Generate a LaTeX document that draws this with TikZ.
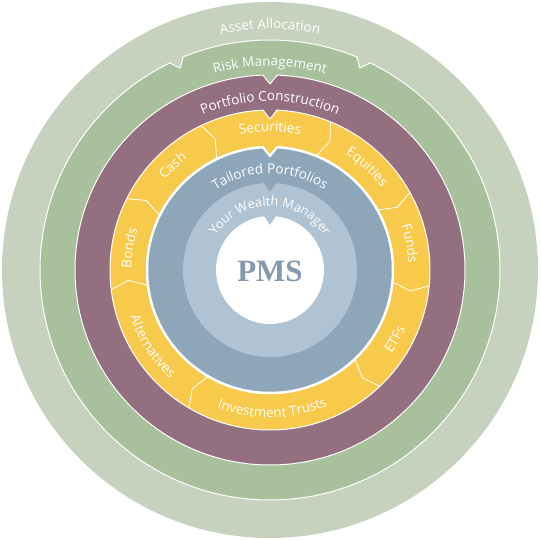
\documentclass[tikz,border=0pt]{standalone}
\usepackage{fontspec}
\setmainfont{Liberation Serif}
\setsansfont{Open Sans}
\usetikzlibrary{decorations.text}
\definecolor{sage}{HTML}{C6D2BE}
\definecolor{fern}{HTML}{A8C09C}
\definecolor{plum}{HTML}{946F7F}
\definecolor{sun}{HTML}{F8CA4B}
\definecolor{steel}{HTML}{8EA6BA}
\definecolor{frost}{HTML}{AFC3D2}
\definecolor{pmsblue}{HTML}{8399AE}
\newcommand\ringfont{\sffamily\fontsize{13.5}{16}\selectfont\color{white}}
\newcommand\corefont{\sffamily\fontsize{12.8}{15}\selectfont\color{white}}

\begin{document}
\begin{tikzpicture}[x=1pt,y=1pt,
    ringtext/.style={decorate,decoration={text along path,text align=center,text={|\ringfont|#1}}},
    coretext/.style={decorate,decoration={text along path,text align=center,text={|\corefont|#1}}}]
  \useasboundingbox (-270,-270) rectangle (270,270);

  % rings, outside in
  \fill[sage] (0,0) circle[radius=268];
  \filldraw[fill=fern,draw=white,line width=1pt] (0,0) circle[radius=230];
  \filldraw[fill=plum,draw=white,line width=1pt] (0,0) circle[radius=195];
  \filldraw[fill=sun,draw=white,line width=1pt] (0,0) circle[radius=160];
  \filldraw[fill=steel,draw=white,line width=2.5pt] (0,0) circle[radius=123];
  \fill[frost] (0,0) circle[radius=87];
  \fill[white] (0,0) circle[radius=54];

  % notches
  \foreach \a/\r/\c/\w in {114/230/sage/1, 66/230/sage/1, 90/195/fern/1, 90/160/plum/1,
                           90/123/sun/2.2, 90/87/steel/0, 90/54/frost/0}{
    \begin{scope}[rotate=\a-90]
      \fill[\c] (-7,\r+1.5) -- (0,\r-9) -- (7,\r+1.5) -- cycle;
      \ifdim\w pt>0pt
        \draw[white,line width=\w pt,line join=round] (-7.3,\r) -- (0,\r-9) -- (7.3,\r);
      \fi
    \end{scope}
  }

  % segments of the yellow ring
  \foreach \t in {67.8,115.5,153.5,187,239.6,313.4,354.3,29}
    \draw[white,line width=0.8pt] (\t:160) -- (\t-2.8:142) -- (\t:124);

  % labels
  \path[ringtext={Asset Allocation}] (150:241) arc[start angle=150,end angle=30,radius=241];
  \path[ringtext={Risk Management}] (150:204) arc[start angle=150,end angle=30,radius=204];
  \path[ringtext={Portfolio Construction}] (150:169) arc[start angle=150,end angle=30,radius=169];

  \path[ringtext={Securities}] (150:138.5) arc[start angle=150,end angle=30,radius=138.5];
  \path[ringtext={Cash}] (193:138.5) arc[start angle=193,end angle=73,radius=138.5];
  \path[ringtext={Bonds}] (231:138.5) arc[start angle=231,end angle=111,radius=138.5];
  \path[ringtext={Equities}] (106.7:138.5) arc[start angle=106.7,end angle=-13.3,radius=138.5];
  \path[ringtext={Funds}] (70.7:138.5) arc[start angle=70.7,end angle=-49.3,radius=138.5];
  \path[ringtext={Alternatives}] (153:147.5) arc[start angle=153,end angle=273,radius=147.5];
  \path[ringtext={Investment Trusts}] (211:147.5) arc[start angle=211,end angle=331,radius=147.5];
  \path[ringtext={ETFs}] (271:147.5) arc[start angle=271,end angle=391,radius=147.5];

  \path[ringtext={Tailored Portfolios}] (160:96.5) arc[start angle=160,end angle=20,radius=96.5];
  \path[coretext={Your Wealth Manager}] (178:64) arc[start angle=178,end angle=2,radius=64];

  \node[font=\rmfamily\bfseries\fontsize{31}{31}\selectfont,text=pmsblue] (pms) at (0,-1) {PMS};
\end{tikzpicture}
\end{document}
